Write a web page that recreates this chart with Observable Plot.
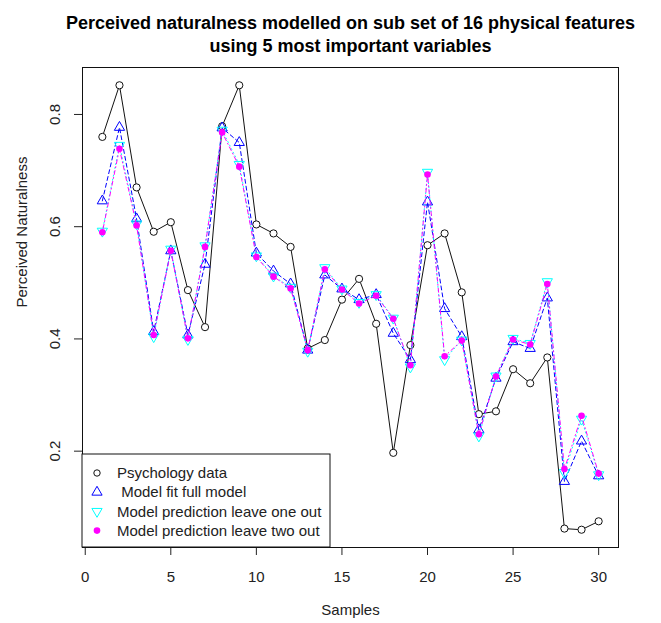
<!DOCTYPE html>
<html>
<head>
<meta charset="utf-8">
<script src="https://cdn.jsdelivr.net/npm/d3@7"></script>
<script src="https://cdn.jsdelivr.net/npm/@observablehq/plot@0.6"></script>
<style>
  html, body { margin: 0; padding: 0; background: #fff; }
  #chart { width: 661px; height: 623px; }
</style>
</head>
<body>
<div id="chart"></div>
<script>
// ---- data ----
const samples = d3.range(1, 31);
const psychology = [0.760, 0.852, 0.670, 0.591, 0.608, 0.487, 0.421, 0.779, 0.852, 0.604,
                    0.588, 0.564, 0.383, 0.398, 0.470, 0.507, 0.427, 0.197, 0.389, 0.567,
                    0.588, 0.483, 0.266, 0.271, 0.346, 0.321, 0.367, 0.062, 0.060, 0.075];
const fullModel = [0.646, 0.777, 0.614, 0.413, 0.557, 0.407, 0.533, 0.776, 0.750, 0.553,
                   0.521, 0.498, 0.380, 0.514, 0.489, 0.470, 0.479, 0.410, 0.363, 0.644,
                   0.454, 0.404, 0.238, 0.330, 0.395, 0.383, 0.473, 0.146, 0.218, 0.156];
const leaveOneOut = [0.592, 0.745, 0.605, 0.404, 0.560, 0.399, 0.566, 0.772, 0.711, 0.548,
                     0.512, 0.492, 0.378, 0.527, 0.489, 0.465, 0.479, 0.437, 0.350, 0.697,
                     0.363, 0.398, 0.227, 0.334, 0.401, 0.392, 0.502, 0.162, 0.257, 0.158];
const leaveTwoOut = [0.590, 0.739, 0.602, 0.407, 0.557, 0.401, 0.564, 0.768, 0.707, 0.546,
                     0.511, 0.490, 0.380, 0.524, 0.488, 0.463, 0.477, 0.436, 0.353, 0.693,
                     0.369, 0.397, 0.230, 0.333, 0.399, 0.390, 0.498, 0.168, 0.263, 0.160];
const xTicks = [0, 5, 10, 15, 20, 25, 30];
const yTicks = [0.2, 0.4, 0.6, 0.8];
const titleLines = ["Perceived naturalness modelled on sub set of 16 physical features",
                    "using 5 most important variables"];
const xTitle = "Samples";
const yTitle = "Perceived Naturalness";
const legendLabels = ["Psychology data", " Model fit full model",
                      "Model prediction leave one out", "Model prediction leave two out"];

const toRows = vals => samples.map((s, i) => ({x: s, y: vals[i]}));
const psyRows = toRows(psychology);
const fullRows = toRows(fullModel);
const oneRows = toRows(leaveOneOut);
const twoRows = toRows(leaveTwoOut);

// triangle symbols (R pch 2 and pch 6)
const triangleDown = {
  draw(ctx, size) {
    const y = Math.sqrt(size / (Math.sqrt(3) * 3));
    ctx.moveTo(0, 2 * y);
    ctx.lineTo(-Math.sqrt(3) * y, -y);
    ctx.lineTo(Math.sqrt(3) * y, -y);
    ctx.closePath();
  }
};
const triangleUp = {
  draw(ctx, size) {
    const y = Math.sqrt(size / (Math.sqrt(3) * 3));
    ctx.moveTo(0, -2 * y);
    ctx.lineTo(-Math.sqrt(3) * y, y);
    ctx.lineTo(Math.sqrt(3) * y, y);
    ctx.closePath();
  }
};

const BLUE = "#0000ff", CYAN = "#00ffff", MAGENTA = "#ff00ff";
const FS = 15;
const ext = (a, b, f) => [a - (b - a) * f, b + (b - a) * f];
const allY = psychology.concat(fullModel, leaveOneOut, leaveTwoOut);
const xDom = ext(1, 30, 0.04);
const yDom = ext(d3.min(allY), d3.max(allY), 0.04);

const plot = Plot.plot({
  width: 661,
  height: 623,
  marginLeft: 82,
  marginRight: 43,
  marginTop: 67,
  marginBottom: 76,
  style: {fontFamily: "'Liberation Sans', Arial, sans-serif", fontSize: FS + "px", color: "#222", background: "#fff"},
  x: {domain: xDom, label: null},
  y: {domain: yDom, label: null},
  marks: [
    Plot.axisX({ticks: xTicks, tickSize: 8, tickPadding: 16, label: null, stroke: "#222", fill: "#222", fontSize: FS}),
    Plot.axisY({ticks: yTicks, tickSize: 8, tickPadding: 15, tickRotate: -90, label: null, stroke: "#222", fill: "#222", fontSize: FS}),
    // psychology data (black)
    Plot.line(psyRows, {x: "x", y: "y", stroke: "#111", strokeWidth: 1}),
    Plot.dot(psyRows, {x: "x", y: "y", r: 3.6, stroke: "#111", fill: "#fff", strokeWidth: 1}),
    // full model (blue, dashed)
    Plot.line(fullRows, {x: "x", y: "y", stroke: BLUE, strokeWidth: 1, strokeDasharray: "4,3"}),
    Plot.dot(fullRows, {x: "x", y: "y", r: 3.8, symbol: triangleUp, stroke: BLUE, fill: "none", strokeWidth: 1}),
    // leave one out (cyan, dotted)
    Plot.line(oneRows, {x: "x", y: "y", stroke: CYAN, strokeWidth: 1, strokeDasharray: "1,3"}),
    Plot.dot(oneRows, {x: "x", y: "y", r: 3.8, symbol: triangleDown, stroke: CYAN, fill: "none", strokeWidth: 1}),
    // leave two out (magenta, dot-dash)
    Plot.line(twoRows, {x: "x", y: "y", stroke: MAGENTA, strokeWidth: 1, strokeDasharray: "1,3,4,3"}),
    Plot.dot(twoRows, {x: "x", y: "y", r: 3.3, fill: MAGENTA, stroke: "none"}),
    Plot.frame({stroke: "#111", strokeWidth: 1}),
    // titles
    Plot.text([titleLines[0]], {frameAnchor: "top", dy: -51, fontWeight: "bold", fontSize: 18, fill: "#000"}),
    Plot.text([titleLines[1]], {frameAnchor: "top", dy: -28, fontWeight: "bold", fontSize: 18, fill: "#000"}),
    Plot.text([xTitle], {frameAnchor: "bottom", dy: 67, fontSize: FS, fill: "#222"}),
    Plot.text([yTitle], {frameAnchor: "left", dx: -60, rotate: -90, fontSize: FS, fill: "#222"})
  ]
});

document.getElementById("chart").appendChild(plot);

// ---- legend (R-style box inside the plot, bottom-left) ----
const left = 82, bottom = 547, boxW = 248, boxH = 93;
const svg = d3.select(plot);
const g = svg.append("g")
  .attr("font-family", "'Liberation Sans', Arial, sans-serif")
  .attr("font-size", FS + "px")
  .attr("text-anchor", "start");
g.append("rect").attr("x", left).attr("y", bottom - boxH).attr("width", boxW).attr("height", boxH)
  .attr("fill", "#fff").attr("stroke", "#111").attr("stroke-width", 1);
const rowY = i => bottom - boxH + 19 + i * 19.2;
const symX = 97;
const symPath = s => d3.symbol(s, Math.PI * 3.8 * 3.8)();
legendLabels.forEach((lab, i) => {
  const y = rowY(i);
  const gg = g.append("g").attr("transform", `translate(${symX},${y})`);
  if (i === 0) gg.append("circle").attr("r", 3.2).attr("fill", "none").attr("stroke", "#111");
  if (i === 1) gg.append("path").attr("d", symPath(triangleUp)).attr("fill", "none").attr("stroke", BLUE);
  if (i === 2) gg.append("path").attr("d", symPath(triangleDown)).attr("fill", "none").attr("stroke", CYAN);
  if (i === 3) gg.append("circle").attr("r", 3.3).attr("fill", MAGENTA);
  g.append("text").attr("x", 117).attr("y", y).attr("dy", "0.35em").attr("fill", "#222")
    .attr("text-anchor", "start")
    .attr("xml:space", "preserve").style("white-space", "pre").text(lab);
});
</script>
</body>
</html>
